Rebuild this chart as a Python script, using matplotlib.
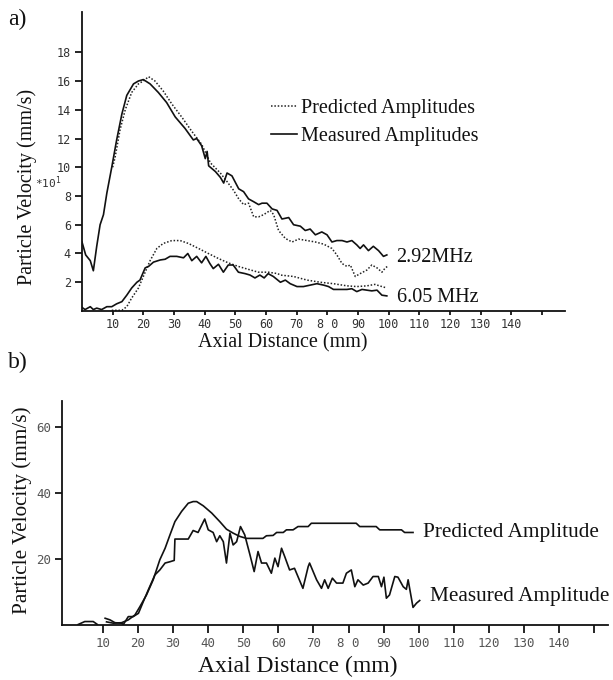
import numpy as np
import matplotlib
matplotlib.use("Agg")
import matplotlib.pyplot as plt

# ---------------- data: panel a ----------------
a_meas_hi_x = [0, 1.2, 2.7, 3.7, 4.8, 5.9, 7.0, 8.1, 9.7, 11.3, 13.0, 14.6, 16.8, 18.4, 20.0, 22.2,
               24.9, 27.6, 30.4, 33.6, 36.3, 37.4, 39.0, 40.2, 40.8, 41.3, 43.5, 45.1, 46.2, 47.3,
               48.9, 51.1, 52.7, 54.3, 56.0, 57.6, 58.7, 60.3, 62.0, 63.6, 65.2, 67.4, 69.0, 71.2,
               72.8, 74.4, 76.1, 78.2, 79.9, 81.5, 83.1, 84.8, 86.4, 88.0, 89.6, 90.7, 91.8, 93.4,
               95.0, 96.7, 98.3, 99.4]
a_meas_hi_y = [4.8, 3.9, 3.5, 2.8, 4.5, 6.0, 6.7, 8.2, 10.0, 11.9, 13.7, 15.0, 15.8, 16.0, 16.1, 15.8,
               15.2, 14.5, 13.5, 12.7, 11.9, 12.0, 11.5, 10.6, 11.1, 10.1, 9.7, 9.3, 8.9, 9.6,
               9.4, 8.5, 8.3, 7.8, 7.6, 7.4, 7.5, 7.5, 7.1, 7.0, 6.4, 6.5, 6.0, 5.9,
               5.6, 5.7, 5.3, 5.5, 5.3, 4.8, 4.9, 4.9, 4.8, 4.9, 4.6, 4.35, 4.6, 4.2,
               4.5, 4.2, 3.8, 3.9]

a_pred_hi_x = [10.0, 10.8, 12.4, 14.1, 16.2, 18.4, 20.0, 21.7, 23.8, 26.5, 29.3, 32.5, 35.8, 39.0,
               41.9, 45.1, 47.3, 49.4, 51.1, 52.7, 54.3, 56.0, 57.6, 59.2, 61.4, 62.5, 64.1, 66.3,
               68.5, 70.6, 73.4, 76.1, 78.8, 81.5, 83.1, 84.8, 86.4, 87.5, 89.1, 90.7, 92.9, 94.5,
               96.2, 97.8, 98.9, 99.6]
a_pred_hi_y = [10.0, 10.7, 12.6, 14.0, 15.2, 15.8, 16.0, 16.3, 16.0, 15.3, 14.4, 13.5, 12.5, 11.6,
               10.3, 9.6, 9.0, 8.4, 7.8, 7.4, 7.5, 6.55, 6.55, 6.7, 7.0, 6.7, 5.6, 5.05,
               4.8, 5.0, 4.9, 4.8, 4.65, 4.35, 3.9, 3.3, 3.1, 3.2, 2.4, 2.6, 2.85, 3.2,
               3.0, 2.7, 3.0, 3.1]

a_meas_lo_x = [0, 1.0, 2.7, 3.7, 4.8, 6.4, 8.1, 9.7, 11.3, 13.0, 14.6, 16.2, 17.9, 18.9, 20.6, 21.7,
               23.3, 25.5, 27.1, 28.7, 30.9, 33.1, 34.5, 35.8, 37.4, 39.0, 40.4, 41.7, 42.8, 44.5,
               46.1, 47.7, 49.3, 51.0, 53.2, 54.8, 56.4, 58.0, 59.4, 60.7, 62.4, 64.7, 66.3, 67.9,
               70.1, 72.2, 74.4, 76.6, 78.8, 80.4, 82.0, 84.2, 86.4, 88.0, 89.6, 91.3, 92.9, 94.5,
               96.2, 97.8, 99.4]
a_meas_lo_y = [0.25, 0.1, 0.3, 0.1, 0.2, 0.1, 0.3, 0.3, 0.5, 0.65, 1.1, 1.6, 2.0, 2.15, 3.0, 3.1,
               3.4, 3.55, 3.6, 3.8, 3.8, 3.7, 4.0, 3.5, 3.8, 3.35, 3.8, 3.3, 2.95, 3.25,
               2.7, 3.2, 3.2, 2.7, 2.6, 2.5, 2.3, 2.5, 2.3, 2.6, 2.4, 2.0, 2.15, 1.9,
               1.7, 1.7, 1.8, 1.9, 1.8, 1.7, 1.5, 1.5, 1.5, 1.55, 1.35, 1.5, 1.45, 1.4,
               1.45, 1.1, 1.05]

a_pred_lo_x = [9.7, 13.0, 14.6, 16.2, 18.4, 20.6, 22.2, 24.4, 26.5, 29.3, 32.0, 34.7, 38.0, 41.2,
               44.5, 47.7, 51.0, 54.2, 57.5, 60.7, 63.8, 64.7, 69.0, 73.4, 77.7, 82.0, 86.4, 89.6,
               92.9, 95.5, 97.8, 99.4]
a_pred_lo_y = [0.05, 0.05, 0.3, 0.9, 1.6, 2.7, 3.5, 4.35, 4.7, 4.9, 4.9, 4.7, 4.35, 4.0,
               3.65, 3.35, 3.1, 2.9, 2.7, 2.7, 2.6, 2.5, 2.4, 2.15, 2.0, 1.9, 1.75, 1.7,
               1.75, 1.85, 1.7, 1.6]

# ---------------- data: panel b ----------------
b_pred_x = [11.0, 12.9, 15.3, 17.2, 19.1, 20.5, 22.4, 24.3, 26.2, 27.7, 29.1, 30.5, 32.4, 34.3,
            35.7, 36.7, 38.6, 41.0, 43.3, 45.2, 47.1, 49.0, 50.9, 55.6, 56.6, 58.5, 59.5, 61.4,
            62.3, 64.2, 65.6, 68.5, 69.4, 82.2, 83.2, 87.9, 88.9, 95.1, 96.0, 98.4]
b_pred_y = [0.8, 0.4, 0.55, 1.4, 2.9, 5.4, 9.0, 13.6, 19.7, 23.2, 27.3, 31.3, 34.4, 36.9,
            37.4, 37.4, 36.1, 33.9, 31.3, 29.0, 27.8, 26.8, 26.2, 26.2, 27.0, 27.1, 28.0, 28.0,
            28.8, 28.8, 29.8, 29.8, 30.8, 30.8, 29.8, 29.8, 28.8, 28.8, 28.0, 28.0]

b_meas_x = [2.9, 4.8, 7.2, 8.4, 9.5, 10.6, 12.0, 13.4, 15.3, 15.8, 17.2, 18.6, 20.1, 21.5, 22.9,
            24.8, 26.2, 27.7, 29.1, 30.3, 30.5, 34.3, 35.7, 37.1, 39.0, 40.0, 41.4, 42.4, 43.3,
            44.3, 45.2, 46.2, 47.1, 48.1, 49.2, 50.4, 51.9, 53.1, 54.2, 55.2, 56.6, 58.0, 59.0,
            59.9, 60.9, 61.8, 63.2, 64.6, 67.0, 68.5, 68.9, 70.9, 72.3, 73.2, 74.2, 75.4, 76.6,
            78.4, 79.4, 80.8, 81.8, 82.7, 84.2, 85.6, 87.0, 88.5, 89.4, 90.1, 90.8, 91.7, 93.2,
            94.1, 95.6, 96.5, 97.0, 98.4, 99.4, 100.3]
b_meas_y = [0.0, 0.9, 0.9, 0.0, np.nan, 1.9, 1.4, 0.55, 0.4, 0.0, 2.4, 2.4, 3.4, 7.0, 10.5,
            15.1, 16.6, 18.7, 19.1, 19.5, 26.0, 26.0, 28.6, 28.0, 32.1, 28.8, 28.0, 25.2, 27.0,
            25.2, 18.7, 27.8, 24.2, 25.2, 29.8, 27.3, 21.2, 16.1, 22.2, 18.7, 18.7, 15.6, 20.2,
            17.6, 23.2, 20.7, 16.6, 17.1, 11.0, 17.6, 18.7, 13.6, 11.0, 13.6, 11.0, 14.1, 12.6,
            12.6, 15.6, 16.6, 11.5, 13.6, 12.0, 12.6, 14.6, 14.6, 11.5, 14.4, 8.0, 9.0, 14.6,
            14.4, 11.5, 10.7, 13.6, 5.2, 6.5, 7.3]

x_ticks = [10, 20, 30, 40, 50, 60, 70, 80, 90, 100, 110, 120, 130, 140, 150]
x_tick_labels = ["10", "20", "30", "40", "50", "60", "70", "8 0", "90", "100", "110", "120", "130", "140", ""]
a_y_ticks = [2, 4, 6, 8, 10, 12, 14, 16, 18]
b_y_ticks = [20, 40, 60]

W, H = 613, 680
fig = plt.figure(figsize=(W / 100, H / 100), dpi=100)

SERIF = "Liberation Serif"
MONO = "DejaVu Sans Mono"

def px_axes(l, r, top, bot):
    return fig.add_axes([l / W, 1 - bot / H, (r - l) / W, (bot - top) / H])

def style(ax, tickcolor, ticksize, xlen, ylen, xpad=3):
    for s in ("top", "right"):
        ax.spines[s].set_visible(False)
    for s in ("left", "bottom"):
        ax.spines[s].set_linewidth(1.3)
        ax.spines[s].set_color("#111111")
    ax.tick_params(axis="x", direction="out", length=xlen, width=1.2, pad=xpad,
                   labelsize=ticksize, labelcolor=tickcolor)
    ax.tick_params(axis="y", direction="out", length=ylen, width=1.2, pad=3,
                   labelsize=ticksize, labelcolor=tickcolor)
    for lab in ax.get_xticklabels() + ax.get_yticklabels():
        lab.set_family(MONO)

lw = 1.2
FA = 14.5   # panel a text size
FB = 15.3   # panel b text size

# ---------------- panel a ----------------
ax1 = px_axes(82, 565, 12, 311)
ax1.set_xlim(0, 157.5)
ax1.set_ylim(0, 20.8)
lp, = ax1.plot(a_pred_hi_x, a_pred_hi_y, color="#222222", lw=1.1, ls=(0, (1, 1.2)))
lm, = ax1.plot(a_meas_hi_x, a_meas_hi_y, color="#111111", lw=lw)
ax1.plot(a_pred_lo_x, a_pred_lo_y, color="#222222", lw=1.1, ls=(0, (1, 1.2)))
ax1.plot(a_meas_lo_x, a_meas_lo_y, color="#111111", lw=lw)
ax1.set_xticks(x_ticks)
ax1.set_xticklabels(x_tick_labels)
ax1.set_yticks(a_y_ticks)
style(ax1, "#333333", 8.5, 3, 5, xpad=2)

ax1.set_xlabel("Axial Distance (mm)", family=SERIF, fontsize=FA, color="#111111")
ax1.xaxis.set_label_coords((283 - 82) / 483, (311 - 343) / 299)
ax1.xaxis.label.set_va("center")
ax1.set_ylabel("Particle Velocity (mm/s)", family=SERIF, fontsize=FA, color="#111111")
ax1.yaxis.set_label_coords((27 - 82) / 483, (311 - 187) / 299)
ax1.yaxis.label.set_va("center")

fig.text(48 / W, 1 - 183 / H, r"*10$^{1}$", family=MONO, fontsize=8, color="#333333",
         ha="center", va="center")

leg = ax1.legend([lp, lm], ["Predicted Amplitudes", "Measured Amplitudes"],
                 loc="upper left", bbox_to_anchor=(271 / W, 1 - 99 / H),
                 bbox_transform=fig.transFigure, frameon=False, borderpad=0,
                 borderaxespad=0, handlelength=1.3, handletextpad=0.2, labelspacing=0.45,
                 prop={"family": SERIF, "size": FA})
for t in leg.get_texts():
    t.set_color("#111111")

ax1.annotate("2.92MHz", xy=(a_meas_hi_x[-1], a_meas_hi_y[-1]), xytext=(6.5, -2),
             textcoords="offset points", family=SERIF, fontsize=FA, va="center", ha="left",
             color="#111111")
ax1.annotate("6.05 MHz", xy=(a_meas_lo_x[-1], a_meas_lo_y[-1]), xytext=(7.5, -1.5),
             textcoords="offset points", family=SERIF, fontsize=FA, va="center", ha="left",
             color="#111111")

fig.text(8 / W, 1 - 19 / H, "a)", family=SERIF, fontsize=17, ha="left", va="center", color="#111111")

# ---------------- panel b ----------------
ax2 = px_axes(62, 608, 401, 624.5)
ax2.set_xlim(-1.7, 154)
ax2.set_ylim(0, 68)
ax2.plot(b_pred_x, b_pred_y, color="#111111", lw=lw)
ax2.plot(b_meas_x, b_meas_y, color="#111111", lw=lw)
ax2.set_xticks(x_ticks)
ax2.set_xticklabels(x_tick_labels)
ax2.set_yticks(b_y_ticks)
style(ax2, "#555555", 9, 6, 5)

ax2.set_xlabel("Axial Distance (mm)", family=SERIF, fontsize=17, color="#111111")
ax2.xaxis.set_label_coords((298 - 62) / 546, (624.5 - 666) / 223.5)
ax2.xaxis.label.set_va("center")
ax2.set_ylabel("Particle Velocity (mm/s)", family=SERIF, fontsize=FB, color="#111111")
ax2.yaxis.set_label_coords((22 - 62) / 546, (624.5 - 510) / 223.5)
ax2.yaxis.label.set_va("center")

ax2.annotate("Predicted Amplitude", xy=(b_pred_x[-1], b_pred_y[-1]), xytext=(7.5, 0),
             textcoords="offset points", family=SERIF, fontsize=FB, va="center", ha="left",
             color="#111111")
ax2.annotate("Measured Amplitude", xy=(b_meas_x[-1], b_meas_y[-1]), xytext=(7.5, 3),
             textcoords="offset points", family=SERIF, fontsize=FB, va="center", ha="left",
             color="#111111")

fig.text(8 / W, 1 - 362 / H, "b)", family=SERIF, fontsize=17, ha="left", va="center", color="#111111")

fig.savefig("out.png", dpi=100)
